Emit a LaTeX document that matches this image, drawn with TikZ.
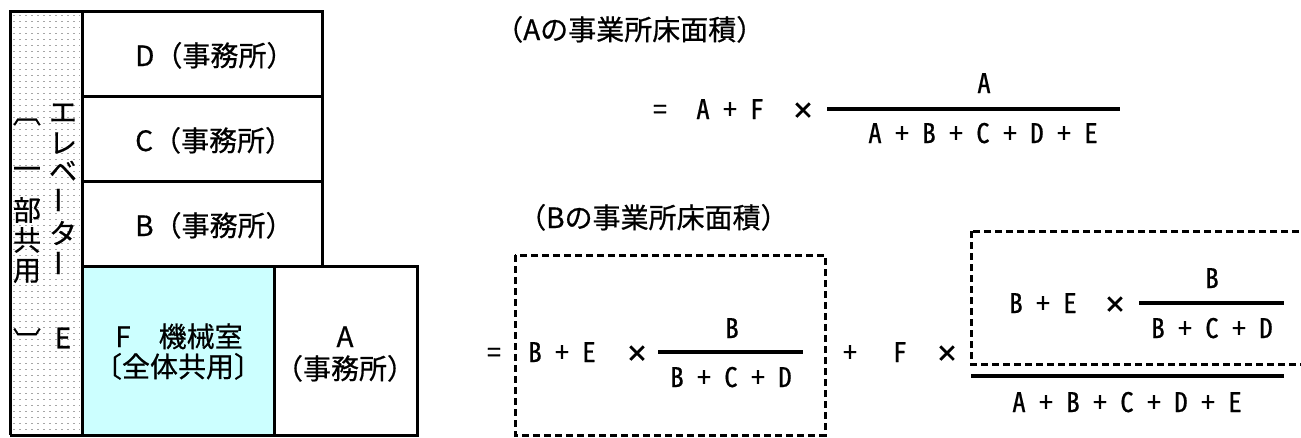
\documentclass[tikz,border=0pt]{standalone}
\usepackage{fontspec}
\newfontfamily\jp[FakeBold=0.6]{Noto Sans CJK JP}
\newfontfamily\jph[RawFeature=+hwid,FakeBold=0.6]{Noto Sans CJK JP}
\newfontfamily\jpx[FakeBold=6]{Noto Sans CJK JP}
\definecolor{fcyan}{HTML}{CCFFFF}
\begin{document}
\begin{tikzpicture}[x=1pt,y=-1pt,
  txt/.style={font=\jp\fontsize{28}{30}\selectfont, inner sep=0pt},
  lat/.style={font=\jph\fontsize{27}{30}\selectfont, inner sep=0pt, anchor=base},
  times/.style={font=\jpx\fontsize{21}{24}\selectfont, inner sep=0pt, anchor=base},
  wall/.style={line width=3pt},
  dbox/.style={line width=3pt, dash pattern=on 7pt off 4pt},
  fline/.style={line width=3.2pt}]
\useasboundingbox (0,0) rectangle (1301,437);
% elevator hatch
\foreach \yy in {15,21,...,432}
  \draw[gray!70, line width=0.9pt, dash pattern=on 2pt off 4pt] (13,\yy) -- (80,\yy);
% machine room fill
\fill[fcyan] (82,266) rectangle (274,435);
% walls
\draw[wall] (10,435) -- (10,11) -- (322,11) -- (322,266);
\draw[wall] (82,11) -- (82,435);
\draw[wall] (82,96) -- (322,96);
\draw[wall] (82,181) -- (322,181);
\draw[wall] (82,266) -- (417,266) -- (417,435) -- (10,435);
\draw[wall] (274,266) -- (274,435);
% room labels
\node[txt, anchor=base west] (d) at (135,66) {D（事務所）};
\node[txt, anchor=base west] (c) at (135,151) {C（事務所）};
\node[txt, anchor=base west] (b) at (135,236) {B（事務所）};
\node[txt, anchor=base] (f1) at (179,347) {F　機械室};
\node[txt, anchor=base] (f2) at (178,377) {〔全体共用〕};
\node[txt, anchor=base] (a1) at (345,347) {A};
\node[txt, anchor=base] (a2) at (345,379) {（事務所）};
% vertical text left column
\node[txt] (v1) at (27,122) {︹};
\node[txt] (v2) at (27,173) {一};
\node[txt] (v3) at (27,210) {部};
\node[txt] (v4) at (27,240) {共};
\node[txt] (v5) at (27,271) {用};
\node[txt] (v6) at (27,340) {︺};
% vertical text right column
\node[txt] (e1) at (63,113) {エ};
\node[txt] (e2) at (63,143) {レ};
\node[txt] (e3) at (63,171) {ベ};
\node[txt, rotate=90] (e4) at (63,200) {ー};
\node[txt] (e5) at (63,233) {タ};
\node[txt, rotate=90] (e6) at (63,263) {ー};
\node[txt] (e7) at (63,338) {E};
% formula A
\node[txt, anchor=base west] (ta) at (495,40) {（Aの事業所床面積）};
\node[lat] (aeq) at (660,119) {=};
\node[lat] (aaf) at (730,119) {A + F};
\node[times] (ax) at (803,118) {×};
\coordinate (al1) at (827,109);
\coordinate (al2) at (1120,109);
\draw[fline] (al1) -- (al2);
\node[lat] (anum) at (984,93) {A};
\node[lat] (aden) at (983,143) {A + B + C + D + E};
% formula B
\node[txt, anchor=base west] (tb) at (518,228) {（Bの事業所床面積）};
\node[lat] (beq) at (494,362) {=};
\coordinate (b1a) at (515,255);
\coordinate (b1b) at (825,435);
\draw[dbox] (b1a) rectangle (b1b);
\node[lat] (bbe) at (562,362) {B + E};
\node[times] (bx) at (637,361) {×};
\coordinate (bl1) at (658,352);
\coordinate (bl2) at (803,352);
\draw[fline] (bl1) -- (bl2);
\node[lat] (bnum) at (732,338) {B};
\node[lat] (bden) at (731,387) {B + C + D};
\node[lat] (bplus) at (850,362) {+};
\node[lat] (bf) at (900,362) {F};
\node[times] (bx2) at (947,361) {×};
\coordinate (b2a) at (971,231);
\coordinate (b2b) at (1310,364);
\draw[dbox] (b2a) rectangle (b2b);
\node[lat] (cbe) at (1043,313) {B + E};
\node[times] (cx) at (1115,312) {×};
\coordinate (cl1) at (1139,303);
\coordinate (cl2) at (1284,303);
\draw[fline] (cl1) -- (cl2);
\node[lat] (cnum) at (1212,288) {B};
\node[lat] (cden) at (1212,338) {B + C + D};
\coordinate (gl1) at (971,376);
\coordinate (gl2) at (1284,376);
\draw[fline] (gl1) -- (gl2);
\node[lat] (gden) at (1127,412) {A + B + C + D + E};
\end{tikzpicture}
\end{document}
